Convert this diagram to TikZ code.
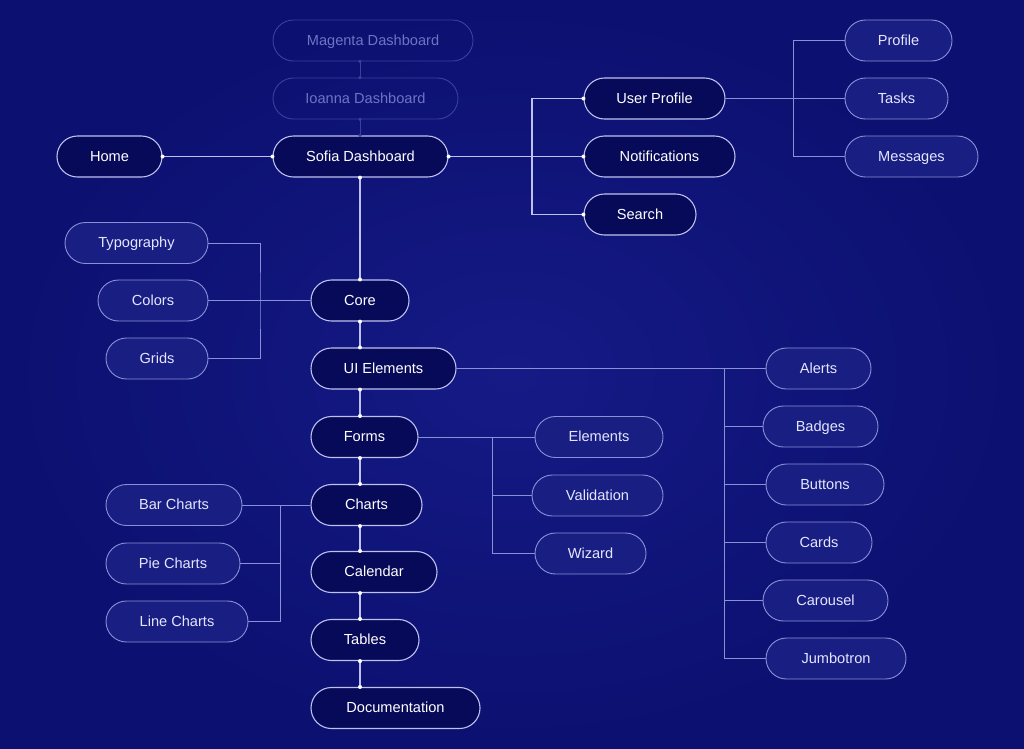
\documentclass[tikz,border=0pt]{standalone}
\usepackage{fontspec}
\setmainfont{Liberation Sans}
\usetikzlibrary{calc}
\definecolor{bgc}{HTML}{0C1070}
\definecolor{bgin}{HTML}{151A86}
\definecolor{mainfill}{HTML}{070A58}
\definecolor{sidefill}{HTML}{191E82}
\definecolor{mainline}{HTML}{BEC1F0}
\definecolor{sideline}{HTML}{8A8FD8}
\definecolor{fadeline}{HTML}{3A40A0}
\definecolor{fadetext}{HTML}{6E74C4}
\definecolor{sidetext}{HTML}{E4E6FF}
\begin{document}
\begin{tikzpicture}[x=1pt,y=-1pt,
  pill/.style={rectangle, rounded corners=20.5pt, minimum height=41pt, inner sep=0pt, text height=10.2pt, text depth=0.3pt, font=\fontsize{14.6}{16}\selectfont},
  mainnode/.style={pill, draw=mainline, line width=1.1pt, fill=mainfill, text=white},
  sidenode/.style={pill, draw=sideline, line width=0.9pt, fill=sidefill, text=sidetext},
  fadenode/.style={pill, draw=fadeline, line width=0.9pt, text=fadetext},
  trunk/.style={draw=mainline, line width=1.3pt},
  branch/.style={draw=sideline, line width=0.8pt},
  fadelink/.style={draw=fadeline, line width=1pt},
  dotc/.style={circle, fill=white, inner sep=0pt, minimum size=4pt}
]
\shade[inner color=bgin, outer color=bgc] (0,0) rectangle (1024,748);
\useasboundingbox (0,0) rectangle (1024,748);

% top faded
\node[fadenode, minimum width=200pt] (magenta) at (373,40.5) {Magenta Dashboard};
\node[fadenode, minimum width=185pt] (ioanna) at (365.5,98.5) {Ioanna Dashboard};
% main column
\node[mainnode, minimum width=175pt] (sofia) at (360.5,156.5) {Sofia Dashboard};
\node[mainnode, minimum width=105pt] (home) at (109.5,156.5) {Home};
\node[mainnode, minimum width=98pt] (core) at (360,300.5) {Core};
\node[mainnode, minimum width=145pt] (ui) at (383.5,368.5) {UI Elements};
\node[mainnode, minimum width=107pt] (forms) at (364.5,437) {Forms};
\node[mainnode, minimum width=111pt] (charts) at (366.5,505) {Charts};
\node[mainnode, minimum width=126pt] (calendar) at (374,572) {Calendar};
\node[mainnode, minimum width=108pt] (tables) at (365,640) {Tables};
\node[mainnode, minimum width=169pt] (doc) at (395.5,708) {Documentation};
% second level
\node[mainnode, minimum width=141pt] (userprofile) at (654.5,98.5) {User Profile};
\node[mainnode, minimum width=151pt] (notif) at (659.5,156.5) {Notifications};
\node[mainnode, minimum width=112pt] (search) at (640,214.5) {Search};
% side nodes
\node[sidenode, minimum width=107pt] (profile) at (898.5,40.5) {Profile};
\node[sidenode, minimum width=103pt] (tasks) at (896.5,98.5) {Tasks};
\node[sidenode, minimum width=133pt] (messages) at (911.5,156.5) {Messages};
\node[sidenode, minimum width=143pt] (typo) at (136.5,243) {Typography};
\node[sidenode, minimum width=110pt] (colors) at (153,300.5) {Colors};
\node[sidenode, minimum width=102pt] (grids) at (157,358.5) {Grids};
\node[sidenode, minimum width=128pt] (elements) at (599,437) {Elements};
\node[sidenode, minimum width=131pt] (validation) at (597.5,495.5) {Validation};
\node[sidenode, minimum width=111pt] (wizard) at (590.5,553.5) {Wizard};
\node[sidenode, minimum width=136pt] (bar) at (174,505) {Bar Charts};
\node[sidenode, minimum width=134pt] (pie) at (173,563.5) {Pie Charts};
\node[sidenode, minimum width=142pt] (line) at (177,621.5) {Line Charts};
\node[sidenode, minimum width=105pt] (alerts) at (818.5,368.5) {Alerts};
\node[sidenode, minimum width=115pt] (badges) at (820.5,426.5) {Badges};
\node[sidenode, minimum width=118pt] (buttons) at (825,484.5) {Buttons};
\node[sidenode, minimum width=106pt] (cards) at (819,542.5) {Cards};
\node[sidenode, minimum width=125pt] (carousel) at (825.5,600.5) {Carousel};
\node[sidenode, minimum width=140pt] (jumbo) at (836,658.5) {Jumbotron};

% faded links
\draw[fadelink] (magenta.south -| core.north) -- (ioanna.north -| core.north);
\draw[fadelink] (ioanna.south -| core.north) -- (sofia.north -| core.north);
\foreach \p in {magenta.south, ioanna.north, ioanna.south, sofia.north}
  \node[circle, fill=fadeline, inner sep=0pt, minimum size=3.5pt] at (\p -| core.north) {};

% trunk links
\draw[trunk] (home.east) -- (sofia.west);
\draw[trunk] (sofia.south -| core.north) -- (core.north);
\coordinate (bus0) at (532,156.5);
\draw[trunk] (sofia.east) -- (notif.west);
\draw[trunk] (userprofile.west) -| (bus0) |- (search.west);
\foreach \a/\b in {core/ui, ui/forms, forms/charts, charts/calendar, calendar/tables, tables/doc}{
  \draw[trunk] (\a.south -| core.north) -- (\b.north -| core.north);
  \node[dotc] at (\a.south -| core.north) {};
  \node[dotc] at (\b.north -| core.north) {};
}
\foreach \p in {home.east, sofia.west, sofia.east, userprofile.west, notif.west, search.west, core.north}
  \node[dotc] at (\p) {};
\node[dotc] at (sofia.south -| core.north) {};

% branch links
\coordinate (busA) at (793,98.5);
\draw[branch] (userprofile.east) -- (tasks.west);
\draw[branch] (profile.west) -| (busA) |- (messages.west);

\coordinate (busB) at (260,300.5);
\draw[branch] (core.west) -- (colors.east);
\draw[branch] (typo.east) -| (busB) |- (grids.east);

\coordinate (busC) at (724,368.5);
\draw[branch] (ui.east) -- (alerts.west);
\draw[branch] (busC) |- (jumbo.west);
\foreach \n in {badges, buttons, cards, carousel}
  \draw[branch] (busC |- \n.west) -- (\n.west);

\coordinate (busD) at (492,437);
\draw[branch] (forms.east) -- (elements.west);
\draw[branch] (busD) |- (wizard.west);
\draw[branch] (busD |- validation.west) -- (validation.west);

\coordinate (busE) at (280,505);
\draw[branch] (charts.west) -- (bar.east);
\draw[branch] (busE) |- (line.east);
\draw[branch] (busE |- pie.east) -- (pie.east);
\end{tikzpicture}
\end{document}
